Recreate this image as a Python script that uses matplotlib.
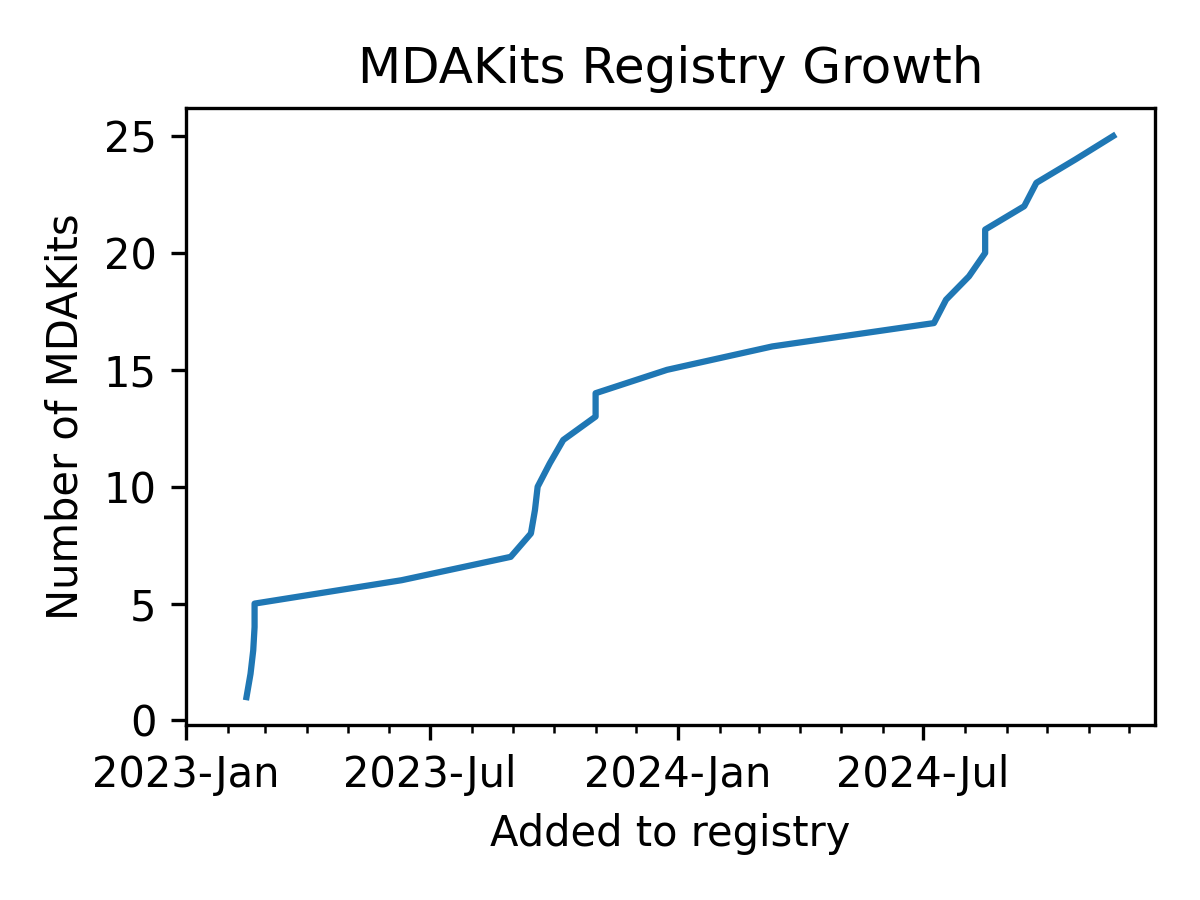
import matplotlib
matplotlib.use("Agg")
import matplotlib.pyplot as plt
import matplotlib.dates as mdates
import pandas as pd

# dates when kits were added
added_dates = [
    "2023-02-15", "2023-02-18", "2023-02-20", "2023-02-21", "2023-02-21",
    "2023-06-10", "2023-08-30", "2023-09-14", "2023-09-17", "2023-09-19",
    "2023-09-28", "2023-10-08", "2023-11-01", "2023-11-01", "2023-12-24",
    "2024-03-11", "2024-07-09", "2024-07-18", "2024-08-04", "2024-08-16",
    "2024-08-16", "2024-09-14", "2024-09-23", "2024-10-22", "2024-11-19",
]
kit_counts = list(range(1, len(added_dates) + 1))

dates = pd.to_datetime(added_dates)

fig, ax = plt.subplots(figsize=(4, 3), dpi=300)
ax.plot(dates, kit_counts, color="#1f77b4", lw=1.5)

ax.xaxis.set_major_locator(mdates.MonthLocator(bymonth=[1, 7]))
ax.xaxis.set_minor_locator(mdates.MonthLocator())
ax.xaxis.set_major_formatter(mdates.DateFormatter("%Y-%b"))
ax.set_xlim(pd.Timestamp("2023-01-01"), pd.Timestamp("2024-12-20"))
ax.set_yticks([0, 5, 10, 15, 20, 25])

ax.set_xlabel("Added to registry")
ax.set_ylabel("Number of MDAKits")
ax.set_title("MDAKits Registry Growth")

fig.tight_layout()
fig.savefig("out.png")
